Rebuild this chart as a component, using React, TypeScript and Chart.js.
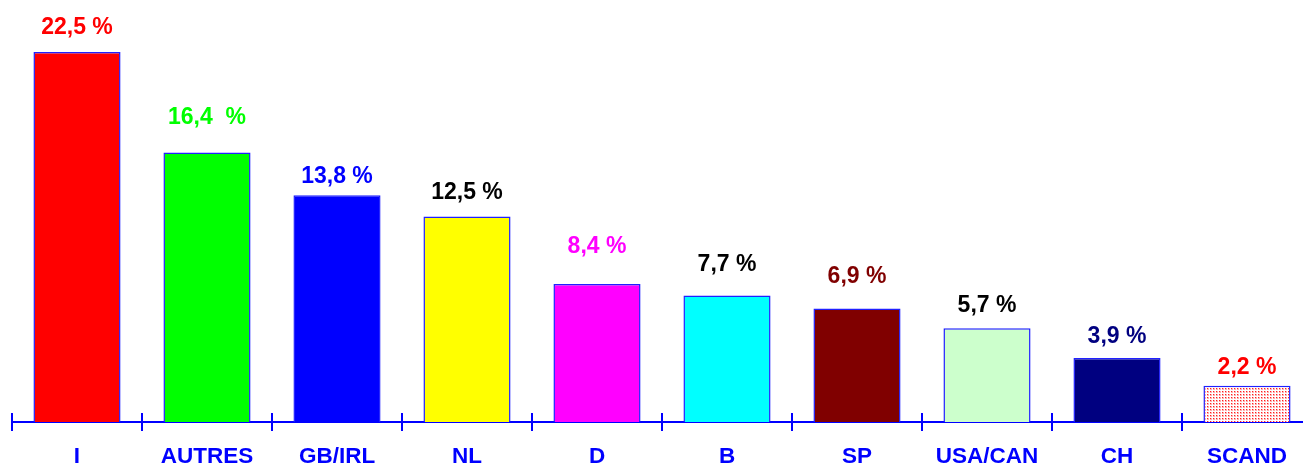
import { useEffect, useRef } from 'react';
import { Chart, registerables } from 'chart.js';

Chart.register(...registerables);

const categories = ['I', 'AUTRES', 'GB/IRL', 'NL', 'D', 'B', 'SP', 'USA/CAN', 'CH', 'SCAND'];
const shares = [22.5, 16.4, 13.8, 12.5, 8.4, 7.7, 6.9, 5.7, 3.9, 2.2];
const valueLabels = ['22,5 %', '16,4  %', '13,8 %', '12,5 %', '8,4 %', '7,7 %', '6,9 %', '5,7 %', '3,9 %', '2,2 %'];
const barColors = ['#FF0000', '#00FF00', '#0000FF', '#FFFF00', '#FF00FF', '#00FFFF', '#800000', '#CCFFCC', '#000080', 'PATTERN'];
const labelColors = ['#FF0000', '#00FF00', '#0000FF', '#000000', '#FF00FF', '#000000', '#800000', '#000000', '#000080', '#FF0000'];
const labelLift = [24, 35, 18, 24, 37, 31, 32, 23, 21, 18];

const FONT = '"Liberation Sans", Arial, Helvetica, sans-serif';
const BLUE = '#0000FF';

function makePattern(): CanvasPattern | string {
  const c = document.createElement('canvas');
  c.width = 3;
  c.height = 3;
  const g = c.getContext('2d');
  if (!g) return '#FFCCCC';
  g.fillStyle = '#FFFFFF';
  g.fillRect(0, 0, 3, 3);
  g.fillStyle = '#FFB0B0';
  g.fillRect(1, 1, 2, 2);
  g.fillStyle = '#FF2020';
  g.fillRect(1, 1, 1, 1);
  const p = g.createPattern(c, 'repeat');
  return p || '#FFCCCC';
}

export default function App() {
  const ref = useRef<HTMLCanvasElement | null>(null);

  useEffect(() => {
    if (!ref.current) return;
    const pattern = makePattern();
    const fills = barColors.map((c) => (c === 'PATTERN' ? pattern : c));

    const decor = {
      id: 'decor',
      afterDatasetsDraw(chart: any) {
        const ctx = chart.ctx;
        const xs = chart.scales.x;
        const bottom = chart.chartArea.bottom;
        ctx.save();
        ctx.strokeStyle = BLUE;
        ctx.lineWidth = 2;
        for (let i = 0; i <= categories.length; i++) {
          const x = Math.round(xs.getPixelForValue(i - 0.5));
          ctx.beginPath();
          ctx.moveTo(x, bottom - 9);
          ctx.lineTo(x, bottom + 9);
          ctx.stroke();
        }
        const meta = chart.getDatasetMeta(0);
        ctx.font = `bold 23px ${FONT}`;
        ctx.textAlign = 'center';
        ctx.textBaseline = 'middle';
        meta.data.forEach((el: any, i: number) => {
          ctx.fillStyle = labelColors[i];
          ctx.fillText(valueLabels[i], el.x, el.y - labelLift[i]);
        });
        ctx.restore();
      },
    };

    const chart = new Chart(ref.current, {
      type: 'bar',
      data: {
        labels: categories,
        datasets: [
          {
            data: shares,
            backgroundColor: fills as any,
            borderColor: '#2020FF',
            borderWidth: 1.5,
            barPercentage: 0.67,
            categoryPercentage: 1,
          },
        ],
      },
      options: {
        responsive: false,
        animation: false,
        layout: { padding: { left: 12, right: 0, top: 11, bottom: 0 } },
        plugins: {
          legend: { display: false },
          tooltip: { enabled: false },
        },
        scales: {
          y: { display: false, min: 0, max: 25 },
          x: {
            offset: true,
            grid: { display: true, drawOnChartArea: false, drawTicks: false },
            border: { display: true, color: BLUE, width: 2 },
            ticks: {
              color: BLUE,
              padding: 21,
              maxRotation: 0,
              autoSkip: false,
              font: { family: FONT, size: 22.5, weight: 'bold' },
            },
            afterFit: (scale: any) => {
              scale.height = 42;
            },
          },
        },
      },
      plugins: [decor],
    });
    return () => chart.destroy();
  }, []);

  return (
    <div style={{ position: 'absolute', left: 0, top: 0, width: 1303, height: 464, overflow: 'hidden', background: '#fff' }}>
      <canvas ref={ref} width={1312} height={464} style={{ width: 1312, height: 464, display: 'block' }} />
    </div>
  );
}
